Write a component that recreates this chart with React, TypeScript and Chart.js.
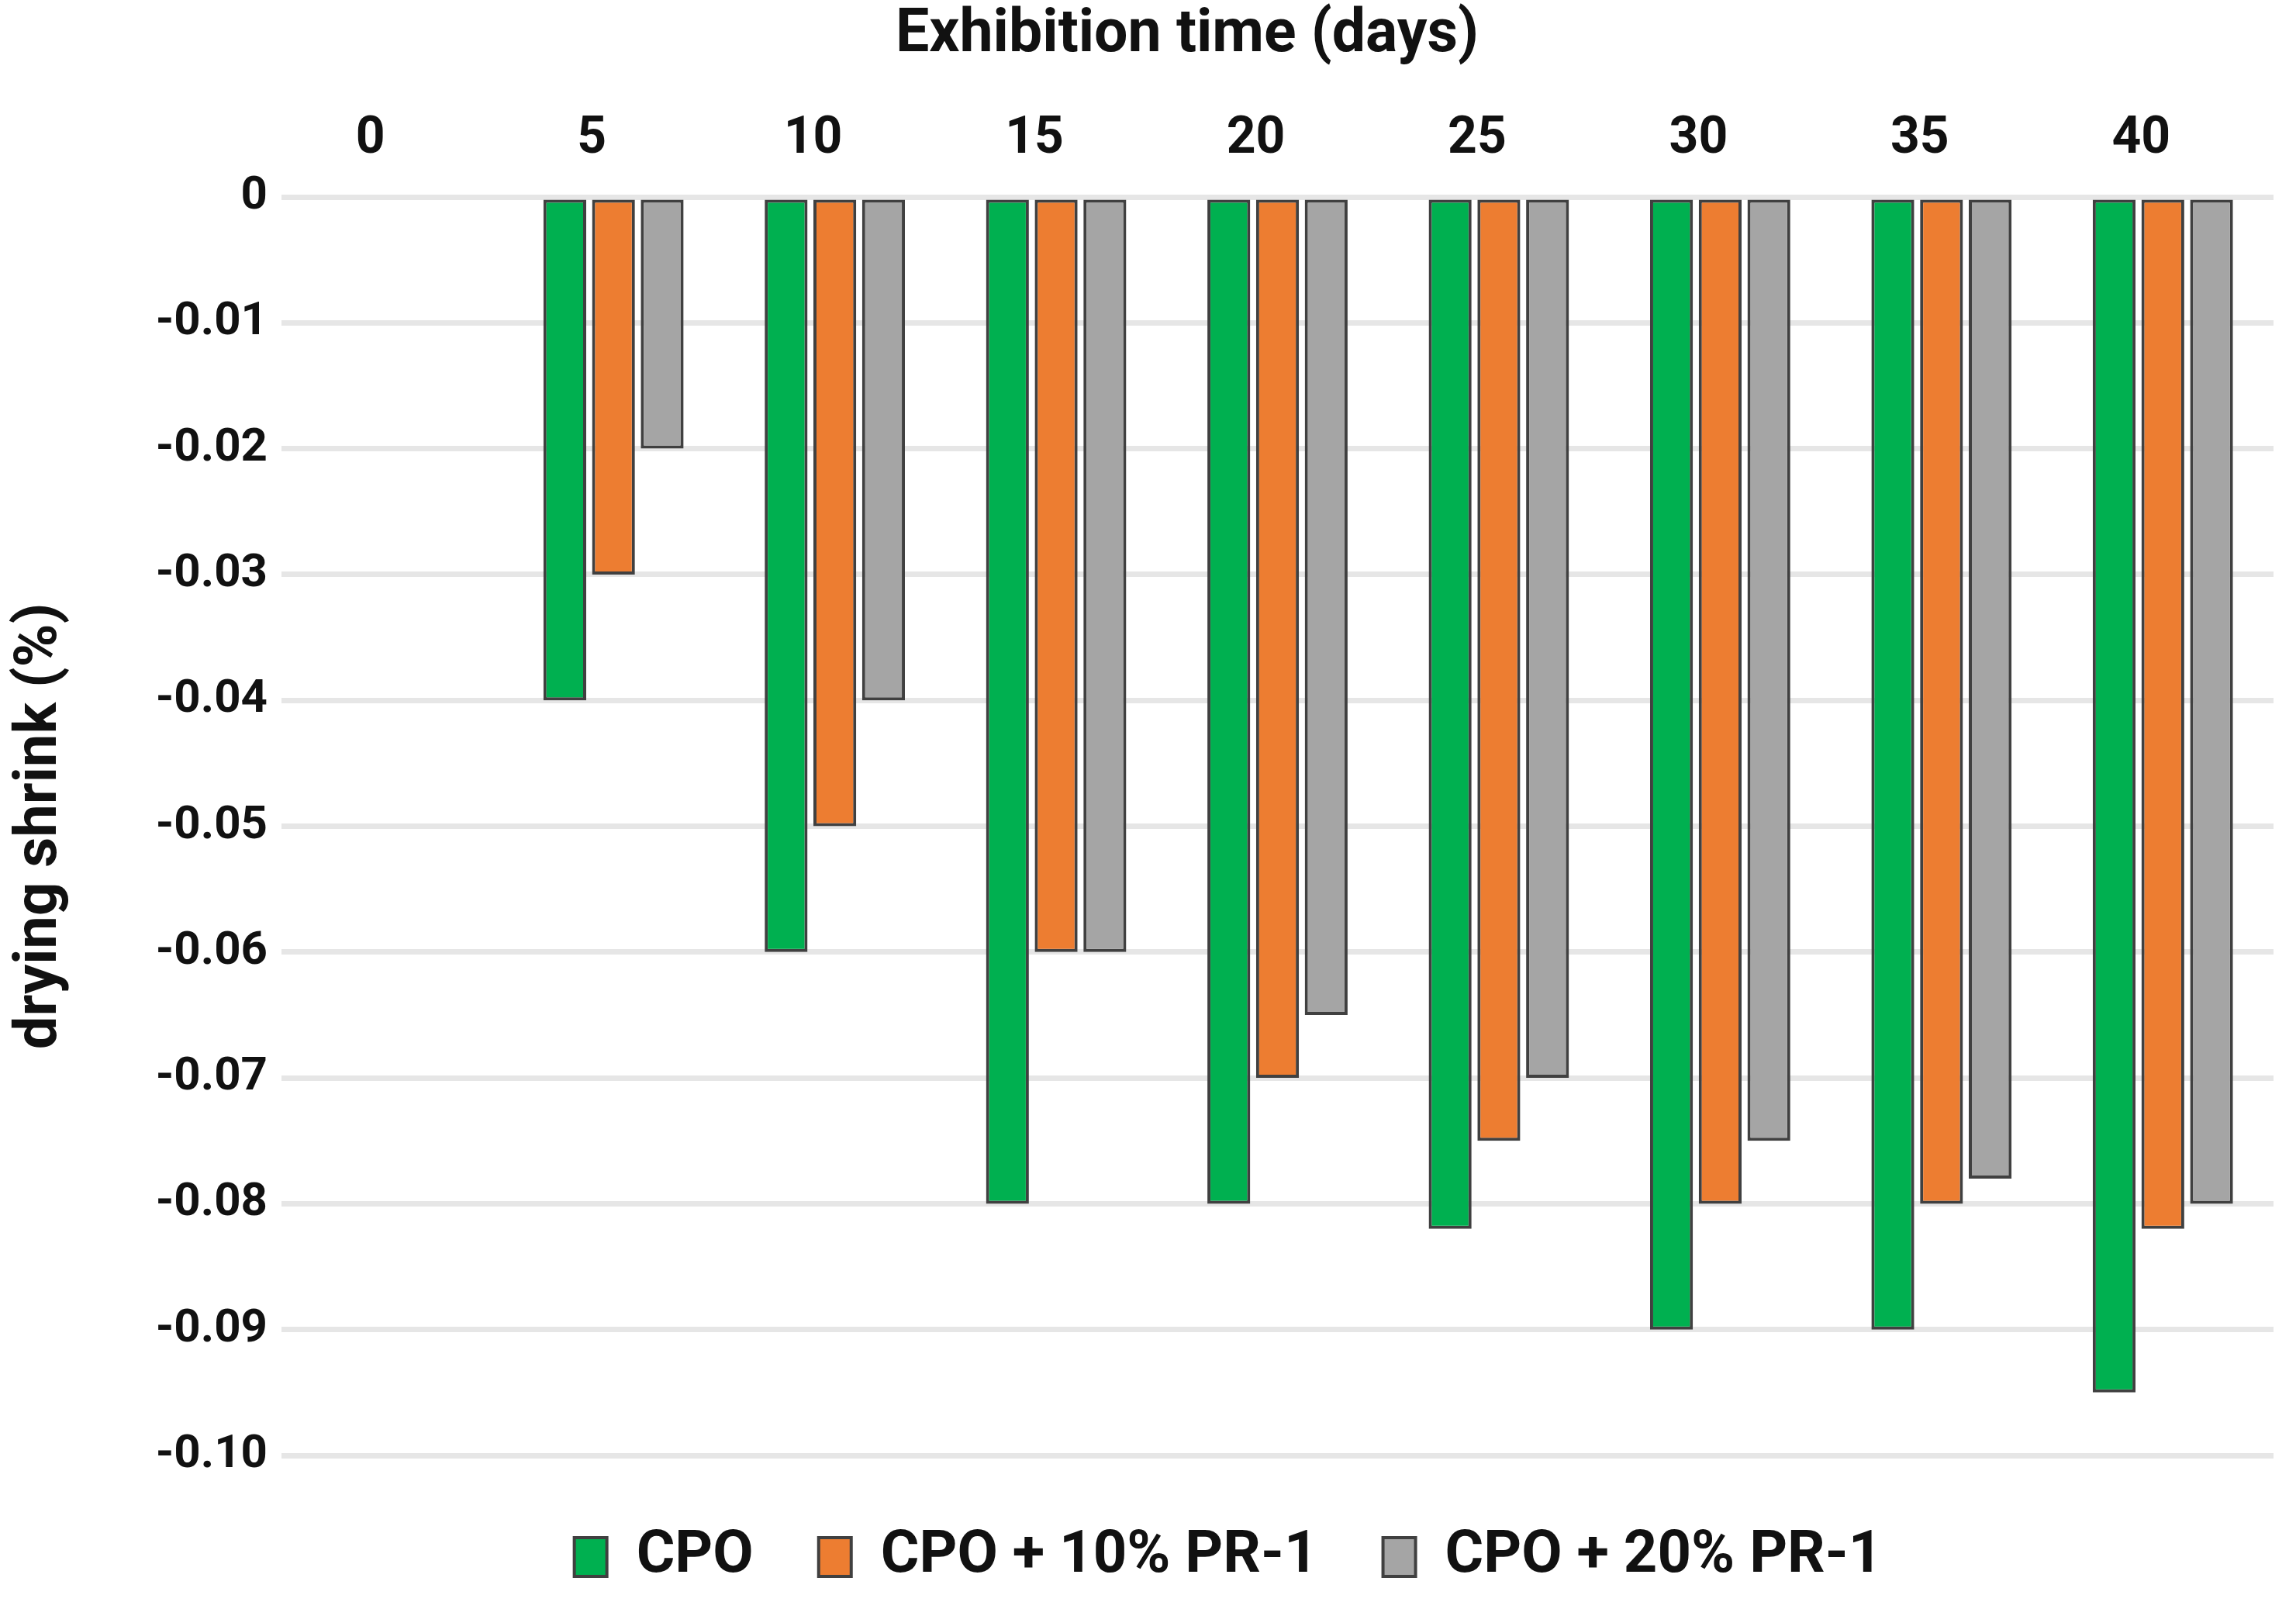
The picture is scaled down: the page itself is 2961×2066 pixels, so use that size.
import React, { useEffect, useRef } from 'react';
import { Chart, registerables } from 'chart.js';

Chart.register(...registerables);

const days = ['0', '5', '10', '15', '20', '25', '30', '35', '40'];
const cpo = [0, -0.04, -0.06, -0.08, -0.08, -0.082, -0.09, -0.09, -0.095];
const cpo10 = [0, -0.03, -0.05, -0.06, -0.07, -0.075, -0.08, -0.08, -0.082];
const cpo20 = [0, -0.02, -0.04, -0.06, -0.065, -0.07, -0.075, -0.078, -0.08];
const seriesNames = ['CPO', 'CPO + 10% PR-1', 'CPO + 20% PR-1'];
const seriesColors = ['#00B050', '#ED7D31', '#A5A5A5'];
const yTickLabels = ['0', '-0.01', '-0.02', '-0.03', '-0.04', '-0.05', '-0.06', '-0.07', '-0.08', '-0.09', '-0.10'];
const xTitle = 'Exhibition time (days)';
const yTitle = 'drying shrink (%)';

const FONT = "Roboto, 'Open Sans', 'DejaVu Sans', sans-serif";
const TEXT = '#111111';

const shiftPlugin = {
  id: 'shiftBoxes',
  afterLayout(chart: any) {
    const t = chart.titleBlock;
    if (t) {
      t.left += 65;
      t.right += 65;
    }
    const l = chart.legend;
    if (l) {
      l.left += 118;
      l.right += 118;
      l.top += 9;
      l.bottom += 9;
    }
  },
};

export default function App() {
  const ref = useRef<HTMLCanvasElement | null>(null);

  useEffect(() => {
    if (!ref.current) return;
    const series = [cpo, cpo10, cpo20];
    const chart = new Chart(ref.current, {
      type: 'bar',
      data: {
        labels: days,
        datasets: series.map((d, i) => ({
          label: seriesNames[i],
          data: d,
          backgroundColor: seriesColors[i],
          borderColor: '#404040',
          borderWidth: 4,
          borderSkipped: false,
          categoryPercentage: 0.66,
          barPercentage: 0.88,
        })),
      },
      plugins: [shiftPlugin],
      options: {
        animation: false,
        responsive: true,
        maintainAspectRatio: false,
        layout: { padding: { left: 0, right: 29, top: 0, bottom: 19 } },
        plugins: {
          title: {
            display: true,
            text: xTitle,
            color: TEXT,
            font: { family: FONT, size: 77, weight: 'bold', lineHeight: 1 },
            padding: { top: 8, bottom: 48 },
          },
          legend: {
            display: true,
            position: 'bottom',
            labels: {
              color: TEXT,
              font: { family: FONT, size: 76, weight: 'bold' },
              boxWidth: 42,
              boxHeight: 50,
              padding: 84,
            },
          },
          tooltip: { enabled: false },
        },
        scales: {
          x: {
            position: 'top',
            grid: { display: false, drawTicks: false },
            border: { display: false },
            ticks: {
              color: TEXT,
              font: { family: FONT, size: 66, weight: 'bold' },
              padding: 34,
              labelOffset: -28,
              maxRotation: 0,
              autoSkip: false,
            },
            afterFit: (s: any) => {
              s.height = 121;
            },
          },
          y: {
            position: 'left',
            min: -0.1,
            max: 0,
            grid: { color: '#E6E6E6', lineWidth: 7, drawTicks: false },
            border: { display: false },
            ticks: {
              stepSize: 0.01,
              color: TEXT,
              padding: 18,
              font: { family: FONT, size: 60, weight: 'bold' },
              callback: (v: any) => yTickLabels[Math.round(-Number(v) * 100)],
            },
            title: {
              display: true,
              text: yTitle,
              color: TEXT,
              font: { family: FONT, size: 76, weight: 'bold', lineHeight: 1 },
              padding: { top: 15, bottom: 0 },
            },
            afterFit: (s: any) => {
              s.width = 363;
            },
          },
        },
      },
    } as any);
    return () => chart.destroy();
  }, []);

  return (
    <div style={{ position: 'fixed', left: 0, top: 0, width: '2961px', height: '2066px', background: '#ffffff' }}>
      <canvas ref={ref} />
    </div>
  );
}
